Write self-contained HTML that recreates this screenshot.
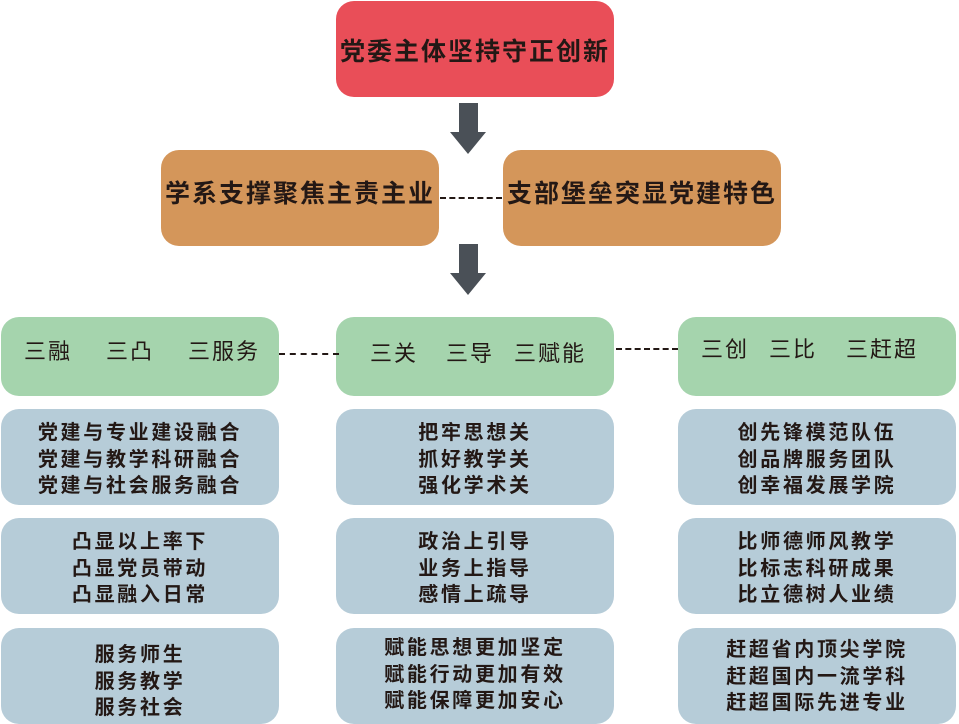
<!DOCTYPE html><html><head><meta charset="utf-8"><style>
body{margin:0;width:959px;height:722px;background:#fff;position:relative;overflow:hidden;font-family:"Liberation Sans","Noto Sans CJK SC",sans-serif;}
.b{position:absolute;border-radius:18px;box-sizing:border-box;color:#231815;}
.r{background:#e94e58;left:336px;top:1px;width:278px;height:96px;font-weight:bold;font-size:25px;text-align:center;padding-top:31px;letter-spacing:2px;white-space:nowrap}
.o{background:#d4965a;top:150px;width:278px;height:96px;font-weight:bold;font-size:25px;text-align:center;padding-top:24px;letter-spacing:2px;white-space:nowrap}
.g{background:#a5d4ad;top:317px;width:278px;height:79px}
.t{position:absolute;font-size:22px;letter-spacing:2px;color:#231815;white-space:nowrap;line-height:24px}
.bl{background:#b6ccd8;width:278px;height:96px;font-weight:bold;font-size:20px;text-align:center;line-height:26.5px;padding-top:11px;letter-spacing:2.7px;white-space:nowrap}
.d{position:absolute;border-top:2.5px dashed #231815;height:0}
.sh{position:absolute;background:#4a5057;width:19px}
.hd{position:absolute;width:0;height:0;border-left:18px solid transparent;border-right:18px solid transparent;border-top:22px solid #4a5057}
</style></head><body>
<div class="b r">党委主体坚持守正创新</div>
<div class="sh" style="left:459px;top:103px;height:30px"></div><div class="hd" style="left:450px;top:132px"></div>
<div class="b o" style="left:161px">学系支撑聚焦主责主业</div>
<div class="b o" style="left:503px">支部堡垒突显党建特色</div>
<div class="d" style="left:440px;top:197px;width:62px"></div>
<div class="sh" style="left:459px;top:244px;height:30px"></div><div class="hd" style="left:450px;top:273px"></div>
<div class="b g" style="left:1px"></div>
<div class="b g" style="left:336px"></div>
<div class="b g" style="left:678px"></div>
<div class="t" style="left:24px;top:340px">三融</div><div class="t" style="left:106px;top:340px">三凸</div><div class="t" style="left:188px;top:340px">三服务</div>
<div class="t" style="left:370px;top:342px">三关</div><div class="t" style="left:446px;top:342px">三导</div><div class="t" style="left:514px;top:342px">三赋能</div>
<div class="t" style="left:701px;top:338px">三创</div><div class="t" style="left:769px;top:338px">三比</div><div class="t" style="left:846px;top:338px">三赶超</div>
<div class="d" style="left:279px;top:353px;width:60px"></div>
<div class="d" style="left:616px;top:348px;width:62px"></div>
<div class="b bl" style="left:1px;top:409px">党建与专业建设融合<br>党建与教学科研融合<br>党建与社会服务融合</div>
<div class="b bl" style="left:336px;top:409px">把牢思想关<br>抓好教学关<br>强化学术关</div>
<div class="b bl" style="left:678px;top:409px">创先锋模范队伍<br>创品牌服务团队<br>创幸福发展学院</div>
<div class="b bl" style="left:1px;top:518px">凸显以上率下<br>凸显党员带动<br>凸显融入日常</div>
<div class="b bl" style="left:336px;top:518px">政治上引导<br>业务上指导<br>感情上疏导</div>
<div class="b bl" style="left:678px;top:518px">比师德师风教学<br>比标志科研成果<br>比立德树人业绩</div>
<div class="b bl" style="left:1px;top:628px;padding-top:14px">服务师生<br>服务教学<br>服务社会</div>
<div class="b bl" style="left:336px;top:628px;padding-top:7px">赋能思想更加坚定<br>赋能行动更加有效<br>赋能保障更加安心</div>
<div class="b bl" style="left:678px;top:628px;padding-top:9px">赶超省内顶尖学院<br>赶超国内一流学科<br>赶超国际先进专业</div>
</body></html>
